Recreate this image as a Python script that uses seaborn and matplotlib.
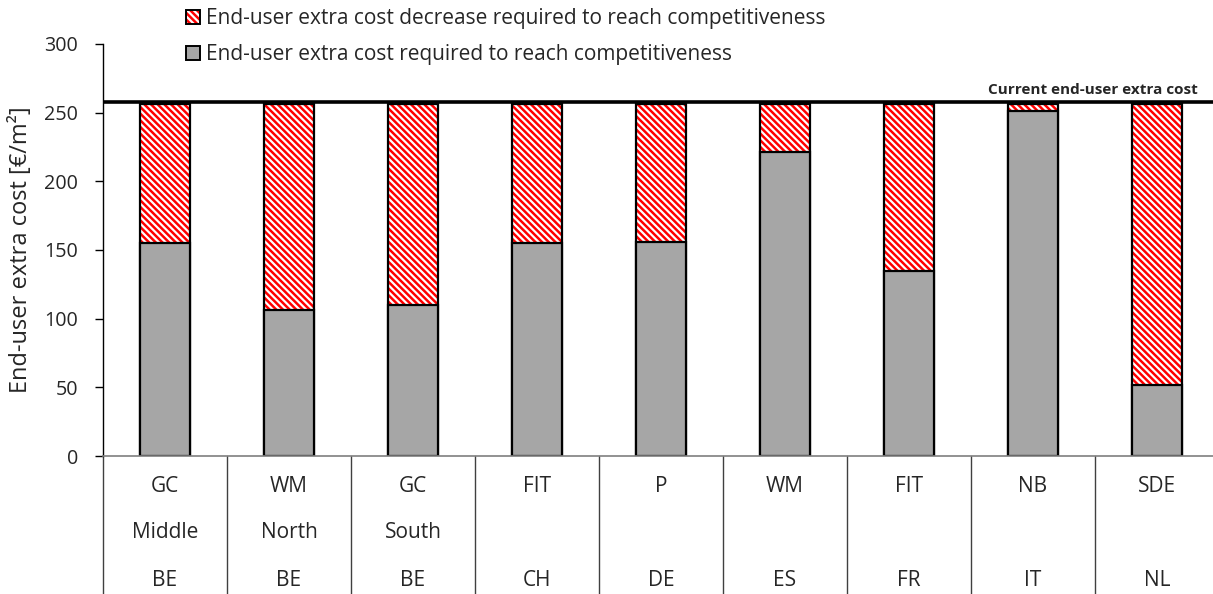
import numpy as np
import pandas as pd
import matplotlib
matplotlib.use("Agg")
import matplotlib.pyplot as plt
from matplotlib.patches import Patch
from matplotlib.legend_handler import HandlerTuple
from matplotlib import transforms
import seaborn as sns

# Support schemes per country / region
scheme = ["GC", "WM", "GC", "FIT", "P", "WM", "FIT", "NB", "SDE"]
region = ["Middle", "North", "South", "", "", "", "", "", ""]
country = ["BE", "BE", "BE", "CH", "DE", "ES", "FR", "IT", "NL"]

# End-user extra cost [€/m²]
current_cost = 258
total_cost = [256, 256, 256, 256, 256, 256, 256, 256, 256]
required_cost = [155, 106, 110, 155, 156, 221, 135, 251, 52]

GRAY = "#A6A6A6"
RED = "#FF0000"
HATCH = "\\\\\\\\\\"

sns.set_theme(style="white")
plt.rcParams["font.family"] = ["Open Sans", "DejaVu Sans"]
plt.rcParams["hatch.linewidth"] = 1.8

keys = [" ".join(t for t in (s, r, c) if t) for s, r, c in zip(scheme, region, country)]
df = pd.DataFrame({"key": keys, "total": total_cost, "required": required_cost})

fig = plt.figure(figsize=(12.13, 5.94), dpi=100)
W, H = 1213, 594
x0, x1, y0, y1 = 103, 1219, 456, 44
ax = fig.add_axes([x0 / W, 1 - y0 / H, (x1 - x0) / W, (y0 - y1) / H])

# Full bar (the hatched part shows the decrease required)
sns.barplot(data=df, x="key", y="total", ax=ax, color="white", width=0.4,
            saturation=1, edgecolor=RED, linewidth=0, order=keys)
for p in list(ax.patches):
    p.set_hatch(HATCH)
    p.set_facecolor("white")
    p.set_edgecolor(RED)
# Outline of the full bar
sns.barplot(data=df, x="key", y="total", ax=ax, fill=False, width=0.4,
            edgecolor="black", linewidth=1.6, order=keys)
# Required extra cost part
sns.barplot(data=df, x="key", y="required", ax=ax, color=GRAY, width=0.4,
            saturation=1, edgecolor="black", linewidth=1.6, order=keys)

ax.set_xlim(-0.5, len(keys) - 0.5)
ax.set_ylim(0, 300)
ax.set_yticks(np.arange(0, 301, 50))
ax.set_xlabel("")
ax.set_xticks([])
ax.set_ylabel("End-user extra cost [€/m²]", fontsize=17, labelpad=8)

for s in ["top", "right"]:
    ax.spines[s].set_visible(False)
ax.spines["left"].set_color("black")
ax.spines["left"].set_linewidth(1.0)
ax.spines["bottom"].set_color("#7F7F7F")
ax.spines["bottom"].set_linewidth(1.2)
ax.tick_params(axis="y", which="major", left=True, length=6, width=1,
               color="black", pad=12, labelsize=14.2)

# Current cost reference line
ax.axhline(current_cost, color="black", lw=2.6, zorder=5)
ax.text(0.981, current_cost + 3.5, "Current end-user extra cost",
        transform=transforms.blended_transform_factory(ax.transAxes, ax.transData),
        ha="right", va="bottom", fontsize=11, fontweight="bold")

# Category table below the axis
trans = transforms.blended_transform_factory(ax.transData, ax.transAxes)
row_y = [(y0 - 487) / (y0 - y1), (y0 - 533) / (y0 - y1), (y0 - 580) / (y0 - y1)]
for i, (s, r, c) in enumerate(zip(scheme, region, country)):
    for txt, yy in zip([s, r, c], row_y):
        if txt:
            ax.text(i, yy, txt, transform=trans, ha="center", va="center",
                    fontsize=15, clip_on=False)
for b in np.arange(-0.5, len(keys) + 0.5, 1.0):
    ax.plot([b, b], [0, -0.4], transform=trans, color="#404040", lw=1.0,
            clip_on=False)

# Legend
hatch_handle = (
    Patch(facecolor="white", edgecolor=RED, hatch=HATCH, linewidth=0),
    Patch(facecolor="none", edgecolor="black", linewidth=1.4),
)
gray_handle = Patch(facecolor=GRAY, edgecolor="black", linewidth=1.4)
labels = ["End-user extra cost decrease required to reach competitiveness",
          "End-user extra cost required to reach competitiveness"]
fig.legend([hatch_handle, gray_handle], labels, loc="upper left",
           handler_map={tuple: HandlerTuple(ndivide=1, pad=0)},
           bbox_to_anchor=(186 / W, 1 - 8 / H), frameon=False,
           fontsize=15, handlelength=0.68, handleheight=0.68,
           handletextpad=0.3, labelspacing=0.72, borderaxespad=0,
           borderpad=0)

fig.savefig("out.png", dpi=100)
